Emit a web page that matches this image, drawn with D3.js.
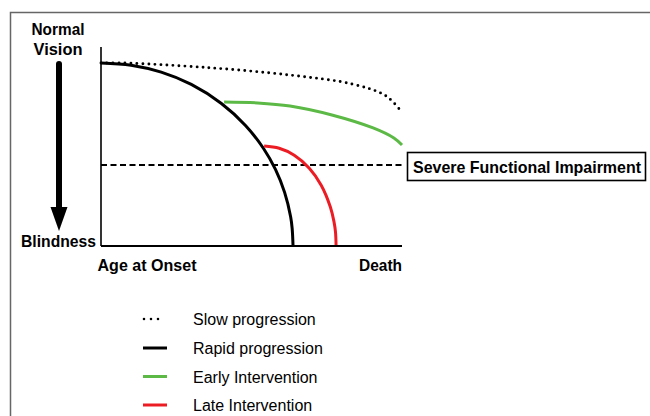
<!DOCTYPE html>
<html>
<head>
<meta charset="utf-8">
<script src="https://cdn.jsdelivr.net/npm/d3@7"></script>
<style>
  html, body { margin: 0; padding: 0; background: #fff; }
  svg { display: block; }
  text { font-family: "Liberation Sans", Arial, Helvetica, sans-serif; fill: #000; }
</style>
</head>
<body>
<svg id="chart" width="650" height="416"></svg>
<script>
// ---- data (x: 0 = age at onset, 100 = death; y: 100 = normal vision, 0 = blindness)
const slowX  = [0, 7.6, 35.2, 62.8, 83.7, 94.7, 100];
const slowY  = [100, 100, 97.5, 93.4, 88.4, 82, 73];
const rapidX = [0, 10, 20, 30, 40, 48, 54, 58, 61, 63, 63.5, 63.8];
const rapidY = [100, 98.8, 95, 88.3, 77.9, 65.9, 53.3, 41.7, 29.3, 16, 9.7, 0];
const earlyX = [40.9, 52, 62.8, 76.7, 90.4, 97.3, 100];
const earlyY = [78.7, 78.2, 76.5, 71.6, 64.5, 59, 55.2];
const lateX  = [54.2, 59.2, 64.2, 69.2, 73.2, 76.2, 77.4, 77.9, 78.1];
const lateY  = [54.6, 53.4, 49.6, 42.5, 33.1, 21.3, 13.3, 7.7, 0];
const impairmentLevel = 44.3;
const axisTop = 108.7;
const seriesNames = ["Slow progression", "Rapid progression", "Early Intervention", "Late Intervention"];
const seriesColors = ["#000000", "#000000", "#5cb946", "#ec1c24"];
const labels = { top: ["Normal", "Vision"], bottom: "Blindness", start: "Age at Onset", end: "Death", threshold: "Severe Functional Impairment" };

const svg = d3.select("#chart");
const x = d3.scaleLinear().domain([0, 100]).range([101, 402]);
const y = d3.scaleLinear().domain([0, 100]).range([246, 63]);

// outer frame
svg.append("rect").attr("x", 10.5).attr("y", 12.5).attr("width", 700).attr("height", 500)
  .attr("fill", "none").attr("stroke", "#666").attr("stroke-width", 1.5);

const zip = (xs, ys) => xs.map((v, i) => [v, ys[i]]);
const line = d3.line().x(d => x(d[0])).y(d => y(d[1])).curve(d3.curveCatmullRom.alpha(0.5));

// threshold dashed line
svg.append("line").attr("x1", x(0)).attr("x2", x(100)).attr("y1", y(impairmentLevel)).attr("y2", y(impairmentLevel))
  .attr("stroke", "#000").attr("stroke-width", 1.9).attr("stroke-dasharray", "6,3.5");

// series
const series = [zip(slowX, slowY), zip(rapidX, rapidY), zip(earlyX, earlyY), zip(lateX, lateY)];
series.forEach((pts, i) => {
  const p = svg.append("path").attr("d", line(pts)).attr("fill", "none")
    .attr("stroke", seriesColors[i]);
  if (i === 0) {
    p.attr("stroke-width", 2.9).attr("stroke-linecap", "round").attr("stroke-dasharray", "0,6");
  } else {
    p.attr("stroke-width", 3);
  }
});

// axes
svg.append("line").attr("x1", x(0)).attr("x2", x(0)).attr("y1", y(axisTop)).attr("y2", y(0))
  .attr("stroke", "#000").attr("stroke-width", 1.6);
svg.append("line").attr("x1", x(0)).attr("x2", x(100)).attr("y1", y(0)).attr("y2", y(0))
  .attr("stroke", "#000").attr("stroke-width", 1.8);

// vertical arrow
svg.append("line").attr("x1", 59).attr("x2", 59).attr("y1", 64).attr("y2", 212)
  .attr("stroke", "#000").attr("stroke-width", 6).attr("stroke-linecap", "round");
svg.append("path").attr("d", "M50.5,207 L67.5,207 L59,231 Z").attr("fill", "#000");

// axis labels
const bold = sel => sel.attr("font-weight", "bold").attr("font-size", 16.5);
bold(svg.append("text").attr("x", 58).attr("y", 35).attr("text-anchor", "middle").attr("textLength", 53).attr("lengthAdjust", "spacingAndGlyphs").text(labels.top[0]));
bold(svg.append("text").attr("x", 58).attr("y", 54.5).attr("text-anchor", "middle").attr("textLength", 49).attr("lengthAdjust", "spacingAndGlyphs").text(labels.top[1]));
bold(svg.append("text").attr("x", 21).attr("y", 247).attr("textLength", 75).attr("lengthAdjust", "spacingAndGlyphs").text(labels.bottom));
bold(svg.append("text").attr("x", 97.5).attr("y", 271).attr("textLength", 99).attr("lengthAdjust", "spacingAndGlyphs").text(labels.start));
bold(svg.append("text").attr("x", 359).attr("y", 271).attr("textLength", 43).attr("lengthAdjust", "spacingAndGlyphs").text(labels.end));

// threshold label box
svg.append("rect").attr("x", 407.5).attr("y", 152.5).attr("width", 238).attr("height", 28)
  .attr("fill", "#fff").attr("stroke", "#000").attr("stroke-width", 1.6);
bold(svg.append("text").attr("x", 413).attr("y", 172.5).attr("textLength", 228)
  .attr("lengthAdjust", "spacingAndGlyphs").attr("font-size", 17.5).text(labels.threshold));

// legend
const legY = [319, 348, 376.5, 405];
seriesNames.forEach((name, i) => {
  const ly = legY[i];
  const l = svg.append("line").attr("x1", i === 0 ? 144 : 143).attr("x2", i === 0 ? 165 : 167)
    .attr("y1", ly).attr("y2", ly).attr("stroke", seriesColors[i]);
  if (i === 0) {
    l.attr("stroke-width", 2.6).attr("stroke-linecap", "round").attr("stroke-dasharray", "0,7");
  } else {
    l.attr("stroke-width", 3);
  }
  svg.append("text").attr("x", 193).attr("y", ly + 6).attr("font-size", 16).text(name);
});
</script>
</body>
</html>
